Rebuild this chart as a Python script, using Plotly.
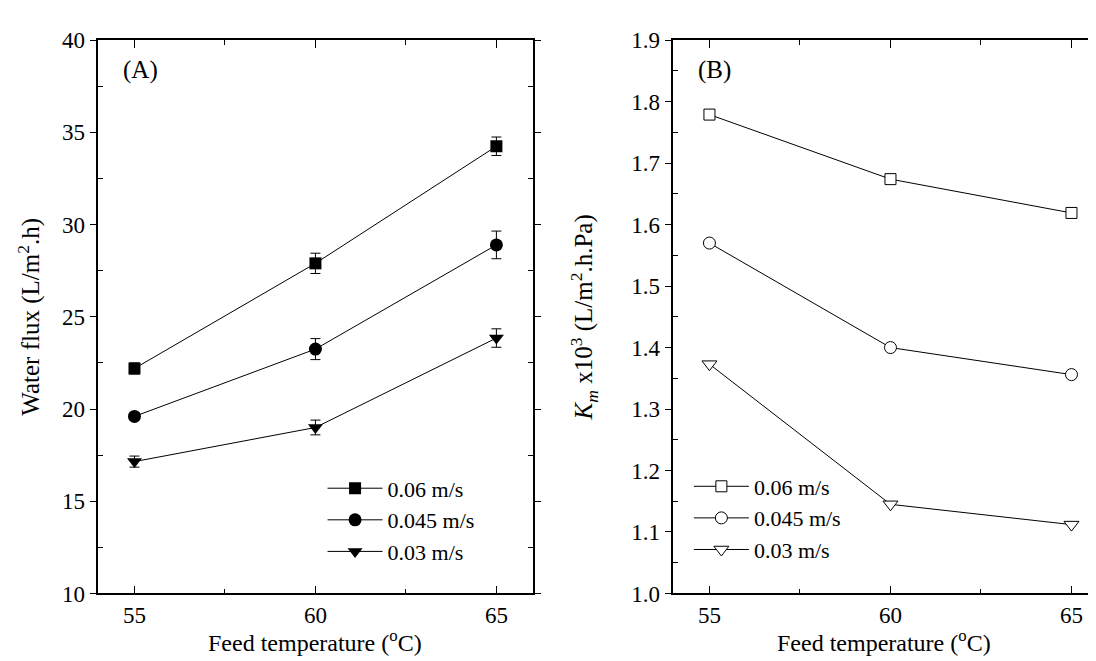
import plotly.graph_objects as go

temps = [55, 60, 65]
series_names = ["0.06 m/s", "0.045 m/s", "0.03 m/s"]

# Panel A: water flux (L/m2.h) with error bars
flux_006 = [22.2, 27.9, 34.25]
flux_0045 = [19.6, 23.25, 28.9]
flux_003 = [17.15, 19.0, 23.85]
err_006 = [0.3, 0.55, 0.5]
err_0045 = [0.2, 0.57, 0.75]
err_003 = [0.3, 0.4, 0.5]

# Panel B: Km x 10^3 (L/m2.h.Pa)
km_006 = [1.779, 1.674, 1.619]
km_0045 = [1.570, 1.400, 1.356]
km_003 = [1.373, 1.145, 1.112]

FONT = "Liberation Serif"

fig = go.Figure()

filled_symbols = ["square", "circle", "triangle-down"]
filled_sizes = [12, 13, 13]
for name, ys, es, sym, sz in zip(series_names, [flux_006, flux_0045, flux_003],
                                  [err_006, err_0045, err_003], filled_symbols, filled_sizes):
    fig.add_trace(go.Scatter(
        x=temps, y=ys, name=name, mode="lines+markers",
        line=dict(color="black", width=1),
        marker=dict(symbol=sym, size=sz, color="black"),
        error_y=dict(type="data", array=es, visible=True, color="black", thickness=1, width=5),
        xaxis="x", yaxis="y", legend="legend",
    ))

open_symbols = ["square", "circle", "triangle-down"]
open_sizes = [11, 12, 13]
for name, ys, sym, sz in zip(series_names, [km_006, km_0045, km_003], open_symbols, open_sizes):
    fig.add_trace(go.Scatter(
        x=temps, y=ys, name=name, mode="lines+markers",
        line=dict(color="black", width=1),
        marker=dict(symbol=sym, size=sz, color="white", line=dict(color="black", width=1)),
        xaxis="x2", yaxis="y2", legend="legend2",
    ))

W, H = 1096, 661
def px(xp):
    return xp / W
def py(yp):
    return 1 - yp / H

base = dict(
    showline=True, linecolor="black", linewidth=1.5, mirror="ticks",
    tickwidth=1.2, tickcolor="black",
    showgrid=False, zeroline=False,
    tickfont=dict(family=FONT, size=23, color="black"),
    title_font=dict(family=FONT, size=25, color="black"),
)
xbase = dict(base, ticks="inside", ticklen=8)
ybase = dict(base, ticks="outside", ticklen=7)

L_DOM = [px(90.7), px(527)]
R_DOM = [px(668.3), px(1092)]
Y_DOM = [py(596), py(21)]
XTITLE = "Feed temperature (<sup>o</sup>C)"

fig.update_layout(
    width=W, height=H,
    margin=dict(l=0, r=0, t=0, b=0),
    paper_bgcolor="white", plot_bgcolor="white",
    font=dict(family=FONT, color="black"),
    xaxis=dict(domain=L_DOM, range=[54, 66], tickvals=[55, 60, 65],
               minor=dict(tickvals=[57.5, 62.5], ticks="inside", ticklen=5, tickcolor="black"),
               anchor="y", **xbase),
    yaxis=dict(domain=Y_DOM, range=[10, 40], tickvals=[10, 15, 20, 25, 30, 35, 40],
               minor=dict(tickvals=[12.5, 17.5, 22.5, 27.5, 32.5, 37.5], ticks="inside", ticklen=5, tickcolor="black"),
               title=dict(text="Water flux (L/m<sup>2</sup>.h)", standoff=15),
               anchor="x", **ybase),
    xaxis2=dict(domain=R_DOM, range=[54, 65.65], tickvals=[55, 60, 65],
                minor=dict(tickvals=[57.5, 62.5], ticks="inside", ticklen=5, tickcolor="black"),
                anchor="y2", **xbase),
    yaxis2=dict(domain=Y_DOM, range=[1.0, 1.9],
                tickvals=[1.0, 1.1, 1.2, 1.3, 1.4, 1.5, 1.6, 1.7, 1.8, 1.9], tickformat=".1f",
                minor=dict(tickvals=[1.05, 1.15, 1.25, 1.35, 1.45, 1.55, 1.65, 1.75, 1.85], ticks="inside", ticklen=5, tickcolor="black"),
                title=dict(text="<i>K</i><sub><i>m</i></sub> x10<sup>3</sup> (L/m<sup>2</sup>.h.Pa)", standoff=31),
                anchor="x2", **ybase),
    legend=dict(x=px(316), y=py(465), xanchor="left", yanchor="top",
                bgcolor="rgba(0,0,0,0)", borderwidth=0, itemwidth=55,
                font=dict(family=FONT, size=22, color="black"), tracegroupgap=0),
    legend2=dict(x=px(684), y=py(463), xanchor="left", yanchor="top",
                 bgcolor="rgba(0,0,0,0)", borderwidth=0, itemwidth=55,
                 font=dict(family=FONT, size=22, color="black"), tracegroupgap=0),
    annotations=[
        dict(text="(A)", x=54.62, y=38.4, xref="x", yref="y", xanchor="left", yanchor="middle",
             showarrow=False, font=dict(family=FONT, size=25, color="black")),
        dict(text="(B)", x=54.62, y=1.852, xref="x2", yref="y2", xanchor="left", yanchor="middle",
             showarrow=False, font=dict(family=FONT, size=25, color="black")),
        dict(text=XTITLE, x=(L_DOM[0] + L_DOM[1]) / 2, y=0, xref="paper", yref="paper",
             xanchor="center", yanchor="bottom", yshift=-2, showarrow=False,
             font=dict(family=FONT, size=24, color="black")),
        dict(text=XTITLE, x=(R_DOM[0] + R_DOM[1]) / 2, y=0, xref="paper", yref="paper",
             xanchor="center", yanchor="bottom", yshift=-2, showarrow=False,
             font=dict(family=FONT, size=24, color="black")),
    ],
    showlegend=True,
)

fig.write_html("out.html")
